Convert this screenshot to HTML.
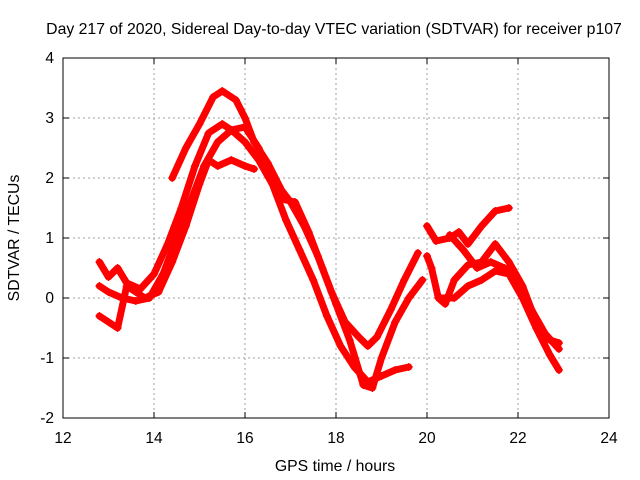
<!DOCTYPE html>
<html><head><meta charset="utf-8"><style>
body{margin:0;background:#fff}
svg{display:block;font-family:"Liberation Sans",sans-serif}
</style></head><body>
<svg id="chart" width="640" height="480">
<rect width="640" height="480" fill="#fff"/>
<text x="334" y="34" font-size="15.8" text-anchor="middle">Day 217 of 2020, Sidereal Day-to-day VTEC variation (SDTVAR) for receiver p107</text>
<text x="335" y="471" font-size="15.8" text-anchor="middle">GPS time / hours</text>
<text transform="translate(19,238) rotate(-90)" font-size="15.8" text-anchor="middle">SDTVAR / TECUs</text>
<g id="grid"></g><g id="series"></g>
<rect x="63" y="58" width="546" height="360" fill="none" stroke="#000"/>
</svg>
<script>
const xTicks=[12,14,16,18,20,22,24];
const yTicks=[-2,-1,0,1,2,3,4];
const trackA=[[14.4,2.0],[14.7,2.5],[15.0,2.9],[15.3,3.35],[15.5,3.45],[15.8,3.3],[16.0,3.0],[16.2,2.6],[16.5,2.25],[16.8,1.8],[17.0,1.6],[17.3,1.2],[17.6,0.7],[17.9,0.1],[18.2,-0.4],[18.5,-0.65],[18.7,-0.8],[18.9,-0.65],[19.2,-0.2],[19.5,0.3],[19.8,0.75]];
const trackB=[[12.8,0.6],[13.0,0.35],[13.2,0.5],[13.4,0.25],[13.7,0.15],[14.0,0.4],[14.3,0.9],[14.6,1.5],[14.9,2.2],[15.2,2.75],[15.5,2.9],[15.7,2.8],[16.0,2.6],[16.3,2.3],[16.6,1.9],[16.9,1.3],[17.2,0.8],[17.5,0.3],[17.8,-0.3],[18.1,-0.8],[18.4,-1.15],[18.7,-1.4],[19.0,-1.3],[19.3,-1.2],[19.6,-1.15]];
const trackC=[[12.8,0.2],[13.0,0.1],[13.3,0.0],[13.6,-0.05],[13.9,0.0],[14.2,0.4],[14.5,1.0],[14.8,1.6],[15.1,2.2],[15.4,2.6],[15.7,2.8],[16.0,2.85],[16.3,2.5],[16.6,2.0],[16.8,1.65],[17.1,1.6],[17.4,1.1],[17.7,0.5],[18.0,-0.1],[18.3,-0.7],[18.6,-1.45],[18.8,-1.5],[19.0,-1.0],[19.3,-0.4],[19.6,0.0],[19.9,0.3]];
const trackD=[[12.8,-0.3],[13.0,-0.4],[13.2,-0.5],[13.4,0.2],[13.8,0.0],[14.1,0.1],[14.4,0.6],[14.7,1.2],[15.0,1.9],[15.2,2.3],[15.4,2.2],[15.7,2.3],[16.0,2.2],[16.2,2.15]];
const trackE=[[20.0,1.2],[20.2,0.95],[20.5,1.0],[20.7,1.1],[20.9,0.9],[21.2,1.2],[21.5,1.45],[21.8,1.5]];
const trackF=[[20.0,0.7],[20.1,0.5],[20.25,0.0],[20.4,-0.1],[20.6,0.3],[20.9,0.55],[21.2,0.6],[21.5,0.9],[21.8,0.6],[22.1,0.2],[22.4,-0.4],[22.7,-0.7],[22.9,-0.75]];
const trackG=[[20.3,0.0],[20.6,0.0],[20.9,0.2],[21.2,0.3],[21.5,0.45],[21.8,0.4],[22.1,0.0],[22.4,-0.5],[22.7,-0.95],[22.9,-1.2]];
const trackH=[[20.5,1.05],[20.8,0.8],[21.1,0.5],[21.4,0.6],[21.7,0.5],[22.0,0.3],[22.3,-0.2],[22.6,-0.6],[22.9,-0.85]];
const tracks=[trackA,trackB,trackC,trackD,trackE,trackF,trackG,trackH];
const NS='http://www.w3.org/2000/svg';
const X=h=>63+(h-12)*45.5, Y=v=>298-v*60;
const grid=document.getElementById('grid'), ser=document.getElementById('series');
function mk(tag,attrs,parent){const e=document.createElementNS(NS,tag);for(const k in attrs)e.setAttribute(k,attrs[k]);parent.appendChild(e);return e;}
xTicks.forEach(t=>{
  if(t>12&&t<24){const l=mk('line',{x1:X(t),x2:X(t),y1:58,y2:418,stroke:'#a0a0a0','stroke-dasharray':'2,3'},grid);
  
  }
  const tk=mk('path',{d:`M${X(t)},418v-6M${X(t)},58v6`,stroke:'#000'},grid);
  
  
  const tx=mk('text',{x:X(t),y:443,'font-size':15.5,'text-anchor':'middle'},grid);tx.textContent=t;
  
  
});
yTicks.forEach(t=>{
  if(t>-2&&t<4){const l=mk('line',{x1:63,x2:609,y1:Y(t),y2:Y(t),stroke:'#a0a0a0','stroke-dasharray':'2,3'},grid);
  
  }
  const tk=mk('path',{d:`M63,${Y(t)}h6M609,${Y(t)}h-6`,stroke:'#000'},grid);
  
  
  const tx=mk('text',{x:54,y:Y(t)+5,'font-size':15.5,'text-anchor':'end'},grid);tx.textContent=t;
  
  
});
tracks.forEach((tr,i)=>{
  const pl=mk('polyline',{points:tr.map(p=>X(p[0])+','+Y(p[1])).join(' '),fill:'none',stroke:'#f00','stroke-width':7,'stroke-linejoin':'round','stroke-linecap':'round'},ser);
  
  
  tr.forEach(p=>{
    const m=mk('path',{d:`M${X(p[0])-4},${Y(p[1])}h8M${X(p[0])},${Y(p[1])-4}v8`,stroke:'#f00','stroke-width':1.2},ser);
    
    
  });
});
</script>
</body></html>
